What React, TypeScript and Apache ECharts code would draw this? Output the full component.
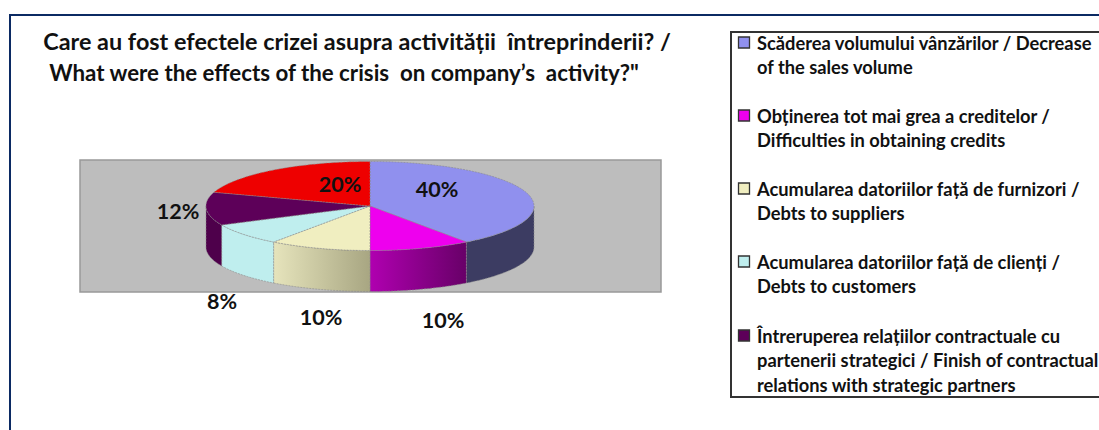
import React, { useEffect, useRef } from "react";
import * as echarts from "echarts";

const titleLines = [
  "Care au fost efectele crizei asupra activității  întreprinderii? /",
  "What were the effects of the crisis  on company’s  activity?\"",
];
const categories = [
  "Scăderea volumului vânzărilor / Decrease\nof the sales volume",
  "Obținerea tot mai grea a creditelor /\nDifficulties in obtaining credits",
  "Acumularea datoriilor față de furnizori /\nDebts to suppliers",
  "Acumularea datoriilor față de clienți /\nDebts to customers",
  "Întreruperea relațiilor contractuale cu\npartenerii strategici / Finish of contractual\nrelations with strategic partners",
  "Altele",
];
const values = [40, 10, 10, 8, 12, 20];
const topColors = ["#9090ee", "#ee00ee", "#f0eec0", "#bfeeee", "#5d0059", "#ee0000"];
const wallLeft = ["#3c3c62", "#b000b0", "#e6e4bc", "#bfeeee", "#4e004b", "#a00000"];
const wallRight = ["#3c3c62", "#680068", "#a8a682", "#bfeeee", "#4e004b", "#a00000"];
const legendShown = 5;

const CX = 370, CY = 206, RX = 164, RY = 44.5, DEPTH = 41;
const labelPos: [number, number][] = [
  [437, 189], [443, 320], [321, 317], [222, 301], [178, 211], [340, 184],
];
const legendRowY = [43, 116, 189, 262, 336];
const LINE_H = 24.4;
const FONT = "Lato";

const pt = (a: number, dy = 0): [number, number] => [
  CX + RX * Math.sin(a),
  CY - RY * Math.cos(a) + dy,
];

function renderItem(params: any, api: any) {
  const i = params.dataIndex;
  const total = values.reduce((s, v) => s + v, 0);
  const before = values.slice(0, i).reduce((s, v) => s + v, 0);
  const a0 = (before / total) * 2 * Math.PI;
  const a1 = ((before + api.value(0)) / total) * 2 * Math.PI;
  const children: any[] = [];

  const w0 = Math.max(a0, Math.PI / 2);
  const w1 = Math.min(a1, (3 * Math.PI) / 2);
  if (w1 > w0) {
    const top: [number, number][] = [];
    const bottom: [number, number][] = [];
    const n = 40;
    for (let k = 0; k <= n; k++) {
      const a = w0 + ((w1 - w0) * k) / n;
      top.push(pt(a));
      bottom.unshift(pt(a, DEPTH));
    }
    children.push({
      type: "polygon",
      shape: { points: top.concat(bottom) },
      style: {
        fill: new echarts.graphic.LinearGradient(0, 0, 1, 0, [
          { offset: 0, color: wallLeft[i] },
          { offset: 1, color: wallRight[i] },
        ]),
        stroke: "#8a8a8a",
        lineWidth: 0.6,
        lineDash: [2, 1],
      },
    });
  }

  const pts: [number, number][] = [[CX, CY]];
  const n = 80;
  for (let k = 0; k <= n; k++) pts.push(pt(a0 + ((a1 - a0) * k) / n));
  children.push({
    type: "polygon",
    shape: { points: pts },
    style: { fill: topColors[i], stroke: "#8a8a8a", lineWidth: 0.6, lineDash: [2, 1] },
  });
  children.push({
    type: "text",
    style: {
      x: labelPos[i][0],
      y: labelPos[i][1],
      text: `${api.value(0)}%`,
      fill: "#111",
      font: `bold 21.5px ${FONT}`,
      align: "center",
      verticalAlign: "middle",
    },
  });
  return { type: "group", children };
}

function legendGraphics() {
  const out: any[] = [];
  for (let i = 0; i < legendShown; i++) {
    out.push({
      type: "rect",
      shape: { x: 738.5, y: legendRowY[i] - 6, width: 11, height: 11 },
      style: { fill: topColors[i], stroke: "#333", lineWidth: 1.3 },
    });
    categories[i].split("\n").forEach((line, k) => {
      out.push({
        type: "text",
        style: {
          x: 757,
          y: legendRowY[i] + k * LINE_H,
          text: line,
          fill: "#111",
          font: `bold 18.3px ${FONT}`,
          align: "left",
          verticalAlign: "middle",
        },
      });
    });
  }
  return out;
}

export default function App() {
  const ref = useRef<HTMLDivElement>(null);
  useEffect(() => {
    const chart = echarts.init(ref.current!, null, { renderer: "svg" });
    chart.setOption({
      animation: false,
      backgroundColor: "#fff",
      title: [
        { text: titleLines[0], left: 352, top: 24, textAlign: "center",
          textStyle: { fontFamily: FONT, fontWeight: "bold", fontSize: 23.4, color: "#111" } },
        { text: titleLines[1], left: 339, top: 56, textAlign: "center",
          textStyle: { fontFamily: FONT, fontWeight: "bold", fontSize: 22.3, color: "#111" } },
      ],
      graphic: [
        { type: "polyline", shape: { points: [[10, 430], [10, 15], [1099, 15]] },
          style: { fill: "none", stroke: "#0b2a63", lineWidth: 2 } },
        { type: "polyline", shape: { points: [[1099, 32], [731, 32], [731, 397], [1099, 397]] },
          style: { fill: "none", stroke: "#333", lineWidth: 2 } },
        { type: "rect", shape: { x: 80, y: 160, width: 581, height: 132 },
          style: { fill: "#bdbdbd", stroke: "#999", lineWidth: 1.5 } },
        ...legendGraphics(),
      ],
      series: [
        {
          type: "custom",
          coordinateSystem: "none",
          renderItem,
          data: values,
          z: 5,
        },
      ],
    });
    return () => chart.dispose();
  }, []);
  return (
    <div
      ref={ref}
      style={{ position: "absolute", left: 0, top: 0, width: 1099, height: 430 }}
    />
  );
}
